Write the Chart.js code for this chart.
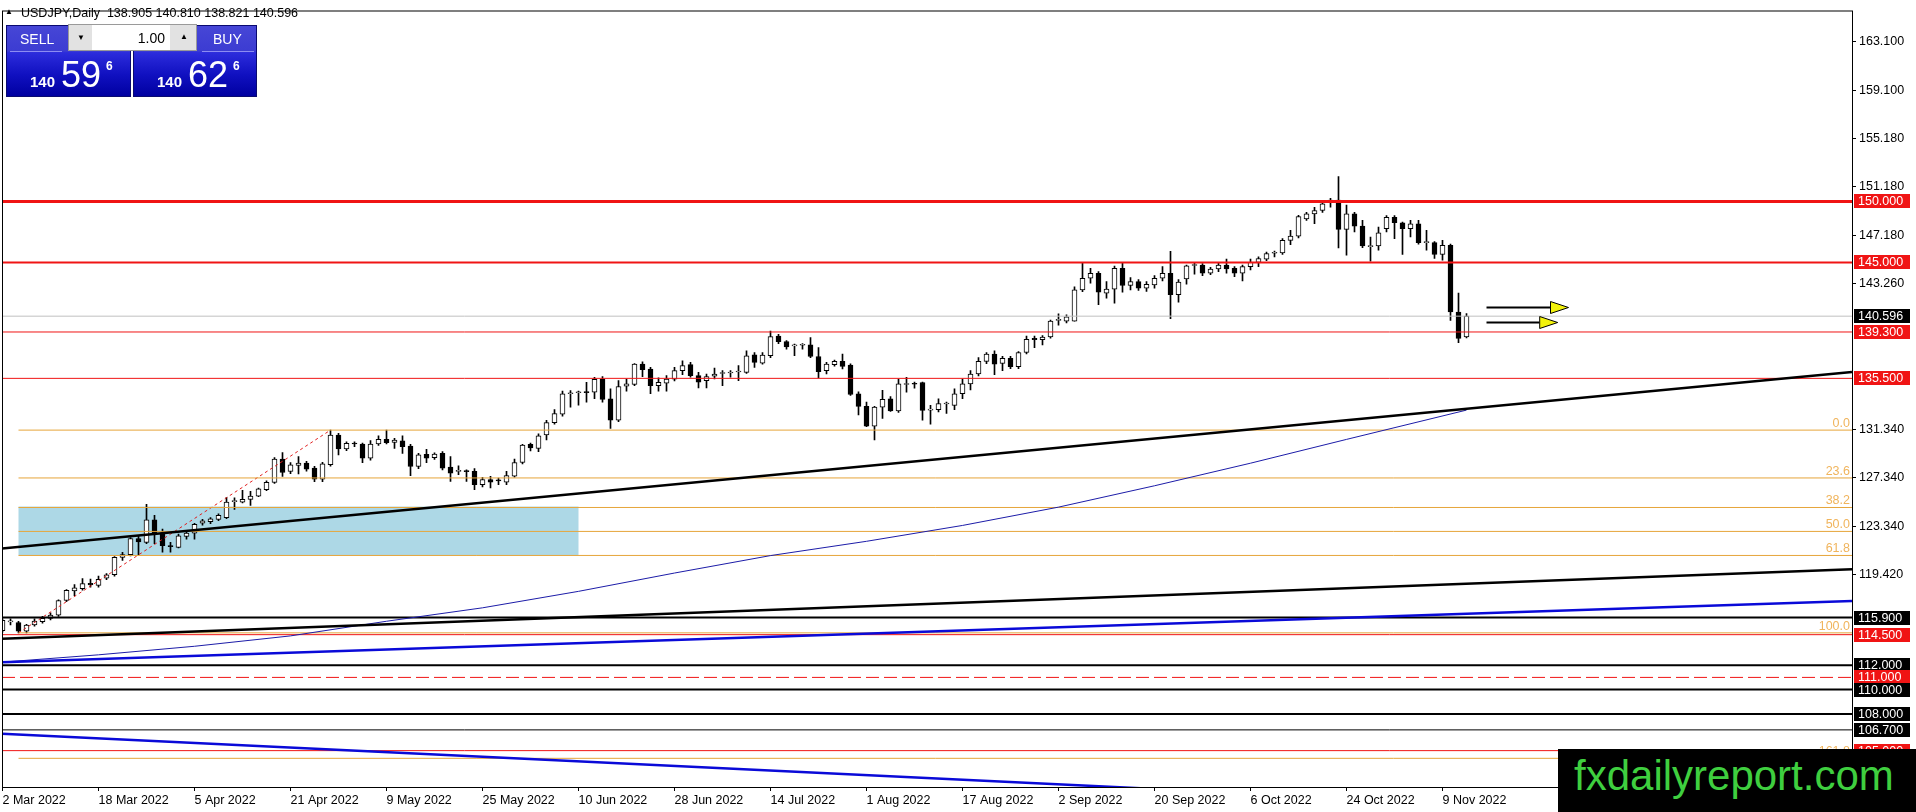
<!DOCTYPE html>
<html>
<head>
<meta charset="utf-8">
<script src="https://cdn.jsdelivr.net/npm/chart.js@4.4.1/dist/chart.umd.min.js"></script>
<style>
  html, body { margin: 0; padding: 0; background: #fff; }
  #wrap { position: relative; width: 1916px; height: 812px; overflow: hidden; font-family: "Liberation Sans", Arial, sans-serif; }
  #chart { position: absolute; left: 0; top: 0; }
  .abs { position: absolute; white-space: pre; }
  #header { left: 21px; top: 5px; font-size: 12.5px; line-height: 16px; color: #000; }
  #tri { left: 5px; top: 7px; font-size: 8px; line-height: 10px; color: #000; }
  .blk { position: absolute; top: 25px; height: 72px; box-sizing: border-box; border: 1px solid #0a0a70;
         background: linear-gradient(#4646d6 0%, #3c3cd2 36%, #2c2cdc 38%, #1010c0 70%, #0000a0 100%); }
  #sell { left: 6px; width: 125px; }
  #buy { left: 133px; width: 124px; }
  .cap { color: #fff; font-size: 14px; line-height: 16px; }
  .rule { position: absolute; top: 51px; height: 1px; background: #8c8cf2; }
  .p1 { color: #fff; font-size: 15px; font-weight: bold; line-height: 15px; }
  .p2 { color: #fff; font-size: 36px; line-height: 36px; }
  .p3 { color: #fff; font-size: 12px; font-weight: bold; line-height: 12px; }
  #lot { left: 68px; top: 24px; width: 129px; height: 27px; box-sizing: border-box; background: #fff; border: 1px solid #9a9a9a; }
  .btn { position: absolute; top: 25px; height: 25px; background: #e2e2e2; }
  #lotval { left: 120px; top: 30px; width: 45px; text-align: right; font-size: 14px; line-height: 16px; color: #000; }
  .arr { font-size: 8px; line-height: 10px; color: #000; }
  #mark { left: 1558px; top: 749px; width: 358px; height: 63px; background: #000; }
  #marktext { left: 1574px; top: 749px; font-size: 42px; line-height: 53px; color: #3fcf3f; }
</style>
</head>
<body>
<div id="wrap">
  <canvas id="chart" width="1916" height="812" style="width:1916px;height:812px"></canvas>

  <div class="abs" id="tri">▲</div>
  <div class="abs" id="header">USDJPY,Daily  138.905 140.810 138.821 140.596</div>

  <div class="blk" id="sell"></div>
  <div class="blk" id="buy"></div>
  <div class="rule" style="left:10px;width:52px"></div>
  <div class="rule" style="left:202px;width:52px"></div>
  <div class="abs cap" style="left:20px;top:31px">SELL</div>
  <div class="abs cap" style="left:213px;top:31px">BUY</div>
  <div class="abs" id="lot"></div>
  <div class="btn" style="left:69px;width:23px"></div>
  <div class="btn" style="left:170px;width:26px"></div>
  <div class="abs arr" style="left:77px;top:33px">▼</div>
  <div class="abs arr" style="left:180px;top:32px">▲</div>
  <div class="abs" id="lotval">1.00</div>

  <div class="abs p1" style="left:30px;top:74px">140</div>
  <div class="abs p2" style="left:61px;top:57px">59</div>
  <div class="abs p3" style="left:106px;top:60px">6</div>
  <div class="abs p1" style="left:157px;top:74px">140</div>
  <div class="abs p2" style="left:188px;top:57px">62</div>
  <div class="abs p3" style="left:233px;top:60px">6</div>

  <div class="abs" id="mark"></div>
  <div class="abs" id="marktext">fxdailyreport.com</div>
</div>

<script>
// date labels every 12 daily bars, bar 0 = 2 Mar 2022
const dateLabels = ["2 Mar 2022", "18 Mar 2022", "5 Apr 2022", "21 Apr 2022", "9 May 2022", "25 May 2022",
  "10 Jun 2022", "28 Jun 2022", "14 Jul 2022", "1 Aug 2022", "17 Aug 2022", "2 Sep 2022",
  "20 Sep 2022", "6 Oct 2022", "24 Oct 2022", "9 Nov 2022"];
const dateTickIndex = [0, 12, 24, 36, 48, 60, 72, 84, 96, 108, 120, 132, 144, 156, 168, 180];

const yTickValues = [163.1, 159.1, 155.18, 151.18, 147.18, 143.26, 131.34, 127.34, 123.34, 119.42];

const opens = [
  114.82, 115.55, 115.50, 114.78, 115.30, 115.57, 115.84, 116.10, 117.30, 118.08,
  118.27, 118.70, 118.54, 119.14, 119.41, 120.84, 121.06, 122.38, 122.06, 123.90,
  122.82, 121.80, 121.65, 122.55, 122.82, 123.63, 123.76, 123.95, 124.09, 125.40,
  125.36, 125.58, 125.85, 126.39, 126.98, 128.88, 127.87, 128.36, 128.55, 128.15,
  127.25, 128.42, 130.85, 129.71, 130.15, 130.12, 128.96, 130.12, 130.50, 130.25,
  130.39, 129.96, 128.28, 129.28, 129.00, 129.36, 128.23, 127.88, 127.88, 127.88,
  126.79, 127.20, 127.14, 126.99, 127.48, 128.61, 130.10, 129.77, 130.86, 131.86,
  132.56, 134.24, 134.32, 134.37, 134.37, 135.45, 133.83, 132.07, 134.86, 135.00,
  136.67, 136.27, 134.91, 135.10, 135.43, 136.13, 136.62, 135.72, 135.32, 135.67,
  135.90, 135.94, 136.02, 135.99, 137.43, 136.75, 137.35, 138.97, 138.51, 138.16,
  138.21, 138.24, 137.29, 136.13, 136.62, 136.89, 136.59, 134.24, 133.21, 131.59,
  133.15, 133.83, 132.83, 135.00, 135.05, 135.16, 132.90, 132.94, 133.40, 133.29,
  134.24, 135.05, 135.86, 136.89, 137.48, 136.72, 137.15, 136.45, 137.62, 138.78,
  138.67, 138.89, 140.25, 140.19, 140.19, 142.75, 143.70, 144.11, 142.48, 142.81,
  144.51, 143.11, 143.43, 142.89, 143.16, 143.70, 144.11, 142.35, 143.65, 144.75,
  144.78, 144.11, 144.46, 144.78, 144.51, 144.11, 144.65, 145.00, 145.27, 145.75,
  145.78, 146.81, 147.16, 148.57, 148.98, 149.25, 150.00, 150.11, 147.71, 148.98,
  147.98, 146.30, 146.35, 147.76, 148.70, 148.25, 147.76, 148.17, 146.62, 146.62,
  145.65, 146.41, 140.94, 138.905
];
const highs = [
  115.80, 115.80, 115.60, 115.35, 115.80, 116.00, 116.30, 117.35, 118.20, 118.60,
  119.10, 119.05, 119.30, 119.50, 120.90, 121.25, 122.45, 122.60, 125.17, 124.28,
  123.15, 122.06, 122.75, 123.00, 123.62, 123.95, 124.10, 124.40, 125.76, 125.71,
  126.33, 126.25, 126.52, 127.10, 129.00, 129.42, 128.60, 129.09, 128.70, 128.30,
  128.62, 131.26, 131.00, 130.31, 130.30, 130.20, 130.40, 130.80, 131.26, 130.58,
  130.80, 130.10, 129.36, 129.69, 129.40, 129.50, 129.09, 128.33, 128.00, 128.10,
  127.40, 127.47, 127.33, 127.88, 128.88, 130.10, 130.20, 130.95, 132.07, 132.94,
  134.45, 134.50, 134.45, 135.18, 135.59, 135.64, 134.64, 135.32, 135.45, 136.72,
  136.86, 136.40, 135.54, 135.72, 136.40, 136.94, 136.81, 135.99, 135.86, 136.35,
  136.13, 136.13, 136.54, 137.75, 137.62, 137.62, 139.38, 139.10, 138.60, 138.30,
  138.35, 138.84, 138.02, 136.81, 137.00, 137.48, 136.70, 134.40, 133.56, 133.20,
  134.51, 134.00, 135.45, 135.59, 135.20, 135.20, 133.29, 133.83, 133.56, 134.64,
  135.45, 136.13, 137.21, 137.62, 137.75, 137.30, 137.30, 137.70, 138.97, 138.97,
  139.00, 140.27, 140.78, 140.70, 143.00, 145.00, 144.51, 144.25, 143.43, 144.70,
  145.00, 143.75, 143.60, 143.43, 143.92, 144.65, 145.90, 143.60, 144.78, 144.92,
  144.90, 144.60, 144.92, 145.27, 144.65, 144.78, 145.27, 145.45, 145.85, 145.92,
  146.95, 147.62, 148.86, 149.10, 149.52, 149.90, 150.25, 152.03, 149.70, 149.10,
  148.44, 147.08, 147.89, 148.84, 148.84, 148.30, 148.44, 148.44, 147.62, 146.70,
  146.81, 146.50, 142.48, 140.81
];
const lows = [
  114.70, 115.30, 114.65, 114.65, 115.20, 115.45, 115.70, 116.00, 117.20, 117.70,
  118.15, 118.40, 118.40, 119.00, 119.30, 120.58, 120.95, 121.05, 121.95, 121.95,
  121.25, 121.25, 121.60, 122.32, 122.32, 123.47, 123.60, 123.85, 124.00, 124.76,
  125.30, 125.10, 125.80, 126.30, 126.90, 127.47, 127.70, 127.68, 127.90, 127.03,
  127.03, 128.30, 129.23, 129.58, 129.90, 128.60, 128.80, 130.00, 130.12, 129.77,
  129.36, 127.52, 128.10, 128.60, 128.85, 128.00, 127.06, 127.60, 127.06, 126.39,
  126.60, 126.52, 126.80, 126.80, 127.40, 128.50, 129.55, 129.50, 130.45, 131.75,
  132.40, 133.15, 133.30, 133.56, 133.83, 133.56, 131.40, 131.95, 134.45, 134.90,
  135.64, 134.24, 134.45, 134.45, 135.30, 135.80, 135.60, 134.72, 134.72, 135.45,
  134.91, 135.59, 135.32, 135.90, 136.40, 136.67, 137.20, 138.35, 137.89, 137.35,
  137.89, 137.20, 135.54, 135.86, 136.50, 136.27, 134.10, 132.50, 131.55, 130.45,
  132.21, 132.80, 132.70, 134.37, 134.70, 132.07, 131.75, 132.75, 132.62, 132.94,
  133.83, 134.56, 135.70, 136.70, 135.80, 136.13, 136.30, 136.30, 137.50, 138.02,
  138.24, 138.80, 139.86, 140.05, 140.19, 142.60, 143.30, 141.54, 142.08, 141.67,
  142.57, 142.75, 142.70, 142.62, 142.89, 143.49, 140.40, 141.75, 143.21, 144.03,
  143.92, 144.00, 144.24, 144.11, 143.84, 143.49, 144.38, 144.65, 145.15, 145.46,
  145.65, 146.46, 147.00, 148.44, 148.17, 149.10, 149.52, 146.19, 145.60, 147.49,
  146.20, 145.11, 146.00, 147.50, 146.95, 145.65, 147.08, 146.50, 146.00, 145.32,
  145.19, 140.24, 138.43, 138.821
];
const closes = [
  115.68, 115.58, 114.78, 115.28, 115.62, 115.84, 116.10, 117.30, 118.14, 118.33,
  118.68, 118.58, 119.03, 119.41, 120.84, 121.06, 122.38, 122.10, 123.90, 122.74,
  121.79, 121.72, 122.60, 122.82, 123.55, 123.82, 124.00, 124.28, 125.36, 125.44,
  125.58, 125.85, 126.44, 126.98, 128.88, 127.79, 128.42, 128.55, 128.06, 127.25,
  128.50, 130.85, 129.71, 130.17, 130.12, 128.96, 130.12, 130.50, 130.23, 130.44,
  129.90, 128.28, 129.23, 128.96, 129.30, 128.15, 127.74, 127.90, 127.86, 126.79,
  127.20, 127.00, 127.10, 127.53, 128.61, 130.04, 129.80, 130.80, 131.88, 132.61,
  134.24, 134.32, 134.40, 134.33, 135.43, 133.78, 132.07, 134.83, 135.05, 136.67,
  136.21, 134.91, 135.18, 135.45, 136.13, 136.54, 135.72, 135.18, 135.64, 135.86,
  135.94, 135.97, 136.05, 137.35, 136.81, 137.40, 138.92, 138.51, 138.08, 138.19,
  138.24, 137.29, 136.05, 136.67, 136.89, 136.48, 134.18, 133.21, 131.59, 133.15,
  133.78, 132.83, 135.05, 135.05, 135.02, 132.88, 132.94, 133.43, 133.43, 134.24,
  135.05, 135.86, 136.89, 137.48, 136.67, 137.15, 136.45, 137.62, 138.70, 138.67,
  138.89, 140.19, 140.32, 140.54, 142.75, 143.70, 144.11, 142.57, 142.81, 144.51,
  143.11, 143.43, 142.89, 143.21, 143.70, 144.11, 142.35, 143.38, 144.73, 144.78,
  144.11, 144.46, 144.78, 144.46, 144.11, 144.65, 145.00, 145.32, 145.73, 145.78,
  146.81, 147.16, 148.76, 148.98, 149.25, 149.79, 150.11, 147.71, 148.98, 147.98,
  146.35, 146.35, 147.43, 148.70, 148.25, 147.76, 148.17, 146.62, 146.68, 145.65,
  146.41, 140.94, 138.78, 140.596
];

// 200-day moving average, read at a few bars
const smaIndex = [0, 12, 24, 36, 48, 60, 72, 84, 96, 108, 120, 132, 144, 156, 168, 183];
const smaValues = [112.25, 112.85, 113.55, 114.40, 115.60, 116.70, 118.05, 119.55, 120.98, 122.15,
  123.45, 124.95, 126.70, 128.55, 130.50, 132.90];

// horizontal levels and their kind
const levelValues = [150.0, 145.0, 140.596, 139.3, 135.5, 115.9, 114.5, 112.0, 111.0, 110.0, 108.0, 106.7, 105.0];
const levelKinds = ["red3", "red2", "bid", "red1", "red1", "black2", "red1", "black2", "redDash", "black2", "black2", "black1", "red1"];

// trend lines: value at the left edge and at the right edge of the plot
const trendLeft = [121.57, 114.17, 112.24, 106.38];
const trendRight = [136.03, 119.87, 117.25, 99.13];
const trendKinds = ["black", "black", "blue", "blue"];

// fibonacci retracement drawn from the 4 Mar low to the 28 Apr high
const fibTexts = ["0.0", "23.6", "38.2", "50.0", "61.8", "100.0", "161.8"];
const fibPrices = [131.26, 127.34, 124.92, 122.96, 120.99, 114.65, 104.37];
const fibStart = 2;
const fibSwing = [[2, 114.65], [41, 131.26]];

// shaded zone
const zoneBars = [2, 72];
const zonePrices = [121.0, 125.0];

// drawn arrows: bar where they start, bar of the tip, price
const arrowStart = [185.5, 185.5];
const arrowTip = [195.75, 194.4];
const arrowPrice = [141.32, 140.10];

const RED = "#f01414";
const X_MIN = -0.0625;
const X_MAX = X_MIN + 1850 / 8;

const levelStyles = {
  red3: { color: RED, width: 3, dash: [], box: RED },
  red2: { color: RED, width: 2, dash: [], box: RED },
  red1: { color: RED, width: 1, dash: [], box: RED },
  redDash: { color: RED, width: 1, dash: [13, 5], box: RED },
  bid: { color: "#c0c0c0", width: 1, dash: [], box: "#000" },
  black2: { color: "#000", width: 2, dash: [], box: "#000" },
  black1: { color: "#000", width: 1, dash: [], box: "#000" },
};
const trendColors = { black: "#000", blue: "#0a0ad8" };

function hLine(value, from, color, width, dash, order) {
  return {
    type: "line",
    data: [{ x: from, y: value }, { x: X_MAX, y: value }],
    borderColor: color,
    borderWidth: width,
    borderDash: dash,
    pointRadius: 0,
    order: order,
    clip: 0,
  };
}

function buildDatasets() {
  const bars = opens.map((_, i) => i);
  const sets = [];

  levelValues.forEach((v, i) => {
    const st = levelStyles[levelKinds[i]];
    sets.push(hLine(v, X_MIN, st.color, st.width, st.dash, 2));
  });

  trendLeft.forEach((v, i) => {
    sets.push({
      type: "line",
      data: [{ x: X_MIN, y: v }, { x: X_MAX, y: trendRight[i] }],
      borderColor: trendColors[trendKinds[i]],
      borderWidth: 2.5,
      pointRadius: 0,
      order: 1,
      clip: 0,
    });
  });

  sets.push({
    type: "line",
    data: smaIndex.map((b, k) => ({ x: b, y: smaValues[k] })),
    borderColor: "#1c1ca8",
    borderWidth: 1,
    pointRadius: 0,
    order: 1,
    clip: 0,
  });

  fibPrices.forEach((v) => sets.push(hLine(v, fibStart, "#e6a53a", 1, [], 3)));

  sets.push({
    type: "line",
    data: fibSwing.map(([b, p]) => ({ x: b, y: p })),
    borderColor: "#e02020",
    borderWidth: 1,
    borderDash: [3, 3],
    pointRadius: 0,
    order: 3,
    clip: 0,
  });

  sets.push({
    type: "bar",
    data: bars.map((i) => ({ x: i, y: [opens[i], closes[i]] })),
    backgroundColor: bars.map((i) => (closes[i] >= opens[i] ? "#ffffff" : "#000000")),
    borderColor: "#000",
    borderWidth: 1,
    borderSkipped: false,
    barThickness: 5,
    minBarLength: 1,
    grouped: false,
    order: 5,
  });

  sets.push({
    type: "bar",
    data: bars.map((i) => ({ x: i, y: [lows[i], highs[i]] })),
    backgroundColor: "#000",
    borderWidth: 0,
    barThickness: 1,
    grouped: false,
    order: 6,
  });

  return sets;
}

const overlayPlugin = {
  id: "overlay",
  beforeDatasetsDraw(chart) {
    const { ctx, scales: { x, y } } = chart;
    const left = x.getPixelForValue(zoneBars[0]);
    const right = x.getPixelForValue(zoneBars[1]);
    const top = y.getPixelForValue(zonePrices[1]);
    const bottom = y.getPixelForValue(zonePrices[0]);
    ctx.save();
    ctx.fillStyle = "#add8e6";
    ctx.fillRect(left, top, right - left, bottom - top);
    ctx.restore();
  },
  afterDatasetsDraw(chart) {
    const { ctx, chartArea, scales: { x, y } } = chart;
    ctx.save();
    ctx.font = '12.5px "Liberation Sans", Arial, sans-serif';
    ctx.fillStyle = "#f0b45c";
    ctx.textAlign = "right";
    ctx.textBaseline = "alphabetic";
    fibPrices.forEach((p, i) => {
      ctx.fillText(fibTexts[i], chartArea.right - 2, y.getPixelForValue(p) - 3);
    });

    arrowPrice.forEach((p, i) => {
      const py = Math.round(y.getPixelForValue(p)) + 0.5;
      const x0 = x.getPixelForValue(arrowStart[i]);
      const tip = x.getPixelForValue(arrowTip[i]);
      const base = tip - 18;
      ctx.strokeStyle = "#000";
      ctx.lineWidth = 2;
      ctx.beginPath();
      ctx.moveTo(x0, py);
      ctx.lineTo(base, py);
      ctx.stroke();
      ctx.fillStyle = "#f2f20c";
      ctx.lineWidth = 1;
      ctx.beginPath();
      ctx.moveTo(base, py - 6);
      ctx.lineTo(tip, py);
      ctx.lineTo(base, py + 6);
      ctx.closePath();
      ctx.fill();
      ctx.stroke();
    });
    ctx.restore();
  },
  afterDraw(chart) {
    const { ctx, chartArea, scales: { y } } = chart;
    ctx.save();
    ctx.strokeStyle = "#000";
    ctx.lineWidth = 1;
    ctx.strokeRect(chartArea.left + 0.5, chartArea.top + 0.5, chartArea.width, chartArea.height);

    ctx.font = '12.5px "Liberation Sans", Arial, sans-serif';
    ctx.textAlign = "left";
    ctx.textBaseline = "middle";
    levelValues.forEach((v, i) => {
      const st = levelStyles[levelKinds[i]];
      const py = Math.round(y.getPixelForValue(v));
      ctx.fillStyle = st.box;
      ctx.fillRect(chartArea.right + 2, py - 7, 56, 14);
      ctx.fillStyle = "#fff";
      ctx.fillText(v.toFixed(3), chartArea.right + 6, py + 1);
    });
    ctx.restore();
  },
};

Chart.defaults.font.family = '"Liberation Sans", Arial, sans-serif';
Chart.defaults.font.size = 12.5;
Chart.defaults.color = "#000";

new Chart(document.getElementById("chart"), {
  type: "bar",
  data: { datasets: buildDatasets() },
  options: {
    responsive: false,
    animation: false,
    events: [],
    layout: { padding: { left: 2, top: 3, right: 0, bottom: 0 } },
    plugins: { legend: { display: false }, tooltip: { enabled: false } },
    scales: {
      x: {
        type: "linear",
        min: X_MIN,
        max: X_MAX,
        offset: false,
        afterFit: (scale) => { scale.height = 25; },
        afterBuildTicks: (scale) => { scale.ticks = dateTickIndex.map((v) => ({ value: v })); },
        grid: { drawOnChartArea: false, drawTicks: true, tickLength: 4, color: "#000", offset: false },
        border: { display: false },
        ticks: {
          autoSkip: false,
          maxRotation: 0,
          minRotation: 0,
          align: "start",
          padding: 2,
          color: "#000",
          callback: (value, index) => dateLabels[index],
        },
      },
      y: {
        type: "linear",
        position: "right",
        min: 102.02,
        max: 165.64,
        afterFit: (scale) => { scale.width = 64; },
        afterBuildTicks: (scale) => { scale.ticks = yTickValues.map((v) => ({ value: v })); },
        grid: { drawOnChartArea: false, drawTicks: true, tickLength: 4, color: "#000" },
        border: { display: false },
        ticks: {
          padding: 3,
          color: "#000",
          callback: (value) => Number(value).toFixed(3),
        },
      },
    },
  },
  plugins: [overlayPlugin],
});
</script>
</body>
</html>
